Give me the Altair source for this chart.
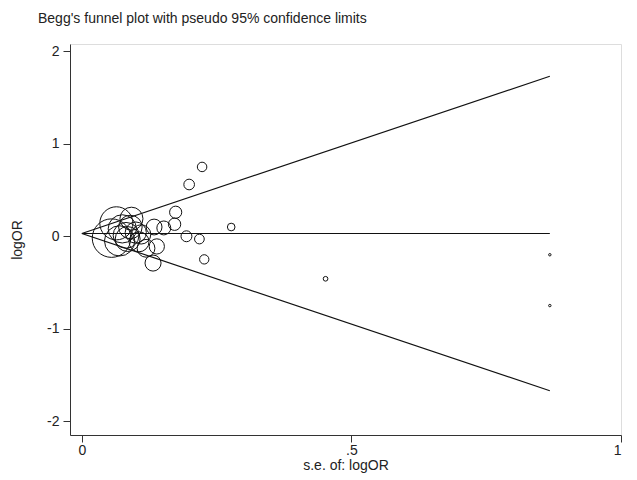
import altair as alt
import pandas as pd

# Study estimates: standard error and log odds ratio
se = [0.055, 0.064, 0.092, 0.082, 0.106, 0.100, 0.075, 0.070, 0.090, 0.134,
      0.152, 0.139, 0.119, 0.132, 0.174, 0.172, 0.194, 0.218, 0.199, 0.223,
      0.277, 0.227, 0.452, 0.868, 0.868, 0.110, 0.085]
log_or = [-0.02, 0.14, 0.19, 0.01, -0.06, 0.04, 0.08, -0.05, 0.10, 0.10,
          0.09, -0.11, -0.13, -0.29, 0.26, 0.13, 0.00, -0.03, 0.56, 0.75,
          0.10, -0.25, -0.46, -0.20, -0.75, 0.02, -0.03]

pooled = 0.03       # pooled logOR (horizontal line)
se_max = 0.868      # largest standard error (end of funnel)
z = 1.96

pts = pd.DataFrame({"se": se, "logor": log_or})
pts["w"] = [1.0 / (s * s) for s in se]

lines = pd.DataFrame({
    "se": [0, se_max, 0, se_max, 0, se_max],
    "y": [pooled, pooled + z * se_max, pooled, pooled - z * se_max, pooled, pooled],
    "g": ["upper", "upper", "lower", "lower", "mid", "mid"],
})

FONT = "Liberation Sans"
FS = 14

xscale = alt.Scale(domain=[-0.022, 1.0], nice=False, zero=False)
yscale = alt.Scale(domain=[-2.15, 2.08], nice=False, zero=False)

xaxis = alt.Axis(values=[0, 0.5, 1], labelExpr="datum.value == 0.5 ? '.5' : datum.value == 0 ? '0' : '1'",
                 title="s.e. of: logOR", grid=False, domainColor="#333", tickColor="#333",
                 tickSize=7, labelColor="#222", titleColor="#222", labelFont=FONT, titleFont=FONT,
                 labelFontSize=FS, titleFontSize=FS, titleFontWeight="normal", titlePadding=1,
                 labelPadding=1)
yaxis = alt.Axis(values=[-2, -1, 0, 1, 2],
                 labelExpr="datum.value < 0 ? '-' + abs(datum.value) : '' + datum.value",
                 title="logOR", grid=False, domainColor="#333",
                 tickColor="#333", tickSize=7, labelColor="#222", titleColor="#222",
                 labelFont=FONT, titleFont=FONT, labelFontSize=FS, titleFontSize=FS,
                 titleFontWeight="normal", labelPadding=4, titlePadding=22, labelAngle=0)

funnel = alt.Chart(lines).mark_line(color="#111", strokeWidth=1.2).encode(
    x=alt.X("se:Q", scale=xscale, axis=xaxis),
    y=alt.Y("y:Q", scale=yscale, axis=yaxis),
    detail="g:N",
)

points = alt.Chart(pts).mark_point(shape="circle", filled=False, color="#111",
                                   strokeWidth=1, opacity=1).encode(
    x=alt.X("se:Q", scale=xscale),
    y=alt.Y("logor:Q", scale=yscale),
    size=alt.Size("w:Q", scale=alt.Scale(domain=[0, 330], range=[0, 1480]), legend=None),
)

chart = alt.layer(funnel, points).properties(
    width=551, height=391,
    autosize=alt.AutoSizeParams(type="none"),
    padding={"left": 62, "top": 36, "right": 8, "bottom": 42},
    title=alt.TitleParams("Begg's funnel plot with pseudo 95% confidence limits",
                          anchor="start", frame="group", dx=-32, offset=18, font=FONT,
                          fontSize=FS, fontWeight="normal", color="#222"),
).configure_view(stroke=None).configure(background="white")

chart.save("out.html", embed_options={"renderer": "svg", "actions": False})
